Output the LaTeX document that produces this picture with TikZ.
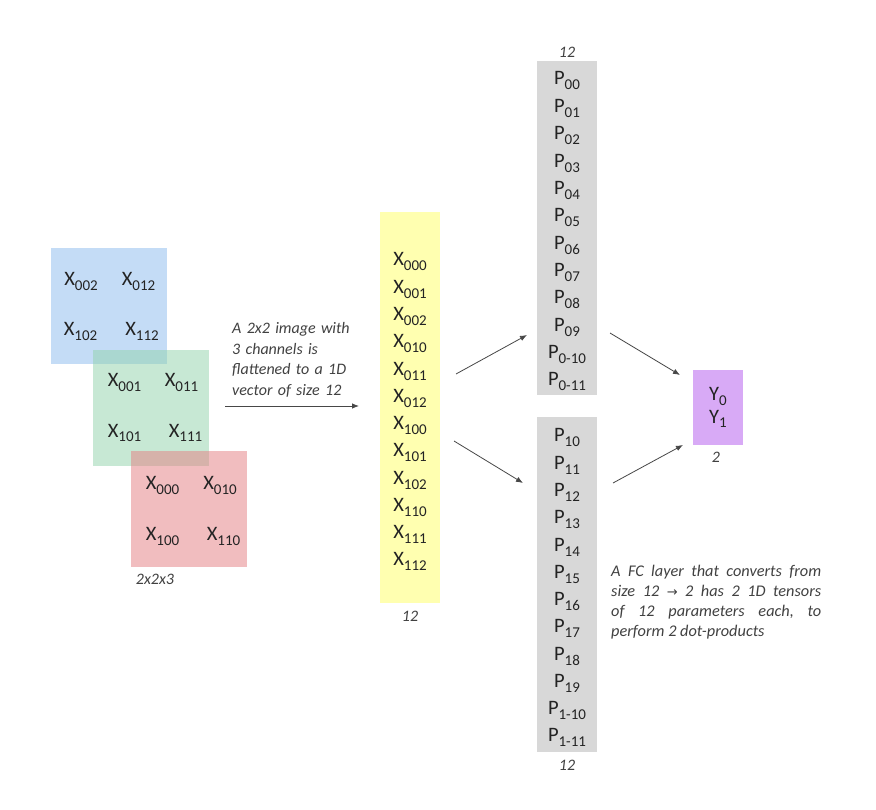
\documentclass[tikz,border=0pt]{standalone}
\usepackage{fontspec}
\setmainfont{Carlito}
\newfontfamily\symfont{DejaVu Sans}
\usetikzlibrary{arrows.meta}
\definecolor{txt}{RGB}{35,35,35}
\definecolor{itxt}{RGB}{65,65,65}
\definecolor{blueC}{RGB}{139,187,239}
\definecolor{greenC}{RGB}{145,211,171}
\definecolor{redC}{RGB}{229,125,129}
\definecolor{yelC}{RGB}{255,255,176}
\definecolor{grayC}{RGB}{216,216,216}
\definecolor{purC}{RGB}{216,170,246}
\newcommand\sbs[1]{\raisebox{-5pt}{\fontsize{15}{15}\selectfont #1}}
\newcommand\jline[1]{\hbox to 210pt{#1}}
\begin{document}
\begin{tikzpicture}[x=1pt,y=-1pt,
  lab/.style={text=txt, font=\fontsize{20.5}{20.5}\selectfont, inner sep=0pt, anchor=base},
  capt/.style={text=itxt, font=\fontsize{16}{18}\selectfont\itshape, inner sep=0pt},
  sq/.style={fill=#1, fill opacity=0.5, draw=none, minimum width=116pt, minimum height=116pt, inner sep=0pt, outer sep=0pt, anchor=north west},
  col/.style={fill=#1, draw=none, inner sep=0pt, outer sep=0pt, anchor=north west},
  arr/.style={draw=black!72, line width=0.8pt, -{Latex[length=7pt,width=5.5pt]}},
]
\useasboundingbox (0,0) rectangle (876,810);
\fill[white] (0,0) rectangle (876,810);

% channel squares
\node[sq=blueC] (blue) at (51,248) {};
\node[sq=greenC] (green) at (93,350) {};
\node[sq=redC] (red) at (131,451) {};

\node[lab] (x002) at (81,286) {X\sbs{002}};
\node[lab] (x012) at (138.5,286) {X\sbs{012}};
\node[lab] (x102) at (80.5,336) {X\sbs{102}};
\node[lab] (x112) at (142,336) {X\sbs{112}};

\node[lab] (x001) at (124.5,387) {X\sbs{001}};
\node[lab] (x011) at (181.5,387) {X\sbs{011}};
\node[lab] (x101) at (124.5,437) {X\sbs{101}};
\node[lab] (x111) at (185.5,437) {X\sbs{111}};

\node[lab] (x000) at (162.5,489) {X\sbs{000}};
\node[lab] (x010) at (220,489) {X\sbs{010}};
\node[lab] (x100) at (162.5,540) {X\sbs{100}};
\node[lab] (x110) at (223.5,540) {X\sbs{110}};

\node[capt] (dim3) at (155,579) {2x2x3};

% flatten text and arrow
\node[capt, anchor=north west, text width=140pt, align=left, font=\fontsize{16}{20.7}\selectfont\itshape] (flat) at (232,322)
 {A 2x2 image with\\3 channels is\\flattened to a 1D\\vector of size 12};
\coordinate (f1) at (225,406);
\coordinate (f2) at (359,406);
\draw[arr] (f1) -- (f2);

% yellow vector
\node[col=yelC, minimum width=60pt, minimum height=391pt] (yel) at (380,212) {};
\foreach \s [count=\i from 0] in {000,001,002,010,011,012,100,101,102,110,111,112}
  \node[lab] (v\s) at (410,266+27.27*\i) {X\sbs{\s}};
\node[capt] (n12a) at (410,616.5) {12};

% top parameter column
\node[col=grayC, minimum width=60pt, minimum height=334pt] (ptop) at (537,61) {};
\foreach \s [count=\i from 0] in {00,01,02,03,04,05,06,07,08,09,0-10,0-11}
  \node[lab] (p\i) at (567,85+27.36*\i) {P\sbs{\s}};
\node[capt] (n12b) at (567,52) {12};

% bottom parameter column
\node[col=grayC, minimum width=60pt, minimum height=335pt] (pbot) at (537,417) {};
\foreach \s [count=\i from 0] in {10,11,12,13,14,15,16,17,18,19,1-10,1-11}
  \node[lab] (q\i) at (567,442+27.27*\i) {P\sbs{\s}};
\node[capt] (n12c) at (567,765.5) {12};

% output
\node[col=purC, minimum width=50pt, minimum height=75pt] (out) at (693,370) {};
\node[lab] (y0) at (718,401) {Y\sbs{0}};
\node[lab] (y1) at (718,423) {Y\sbs{1}};
\node[capt] (n2) at (716,457) {2};

% connectors
\coordinate (a1) at (456,374); \coordinate (a2) at (527,335);
\coordinate (b1) at (454,441); \coordinate (b2) at (523,483);
\coordinate (c1) at (610,333); \coordinate (c2) at (680,375);
\coordinate (d1) at (613,483); \coordinate (d2) at (683,445);
\draw[arr] (a1) -- (a2);
\draw[arr] (b1) -- (b2);
\draw[arr] (c1) -- (c2);
\draw[arr] (d1) -- (d2);

% FC text
\node[capt, anchor=north west, align=left, font=\fontsize{16.3}{20}\selectfont\itshape] (fc) at (611,565)
 {\jline{A\hfill FC\hfill layer\hfill that\hfill converts\hfill from}\\
  \jline{size\hfill 12\hfill {\symfont\fontsize{13}{20}\selectfont →}\hfill 2\hfill has\hfill 2\hfill 1D\hfill tensors}\\
  \jline{of\hfill 12\hfill parameters\hfill each,\hfill to}\\
  perform 2 dot-products};
\end{tikzpicture}
\end{document}
